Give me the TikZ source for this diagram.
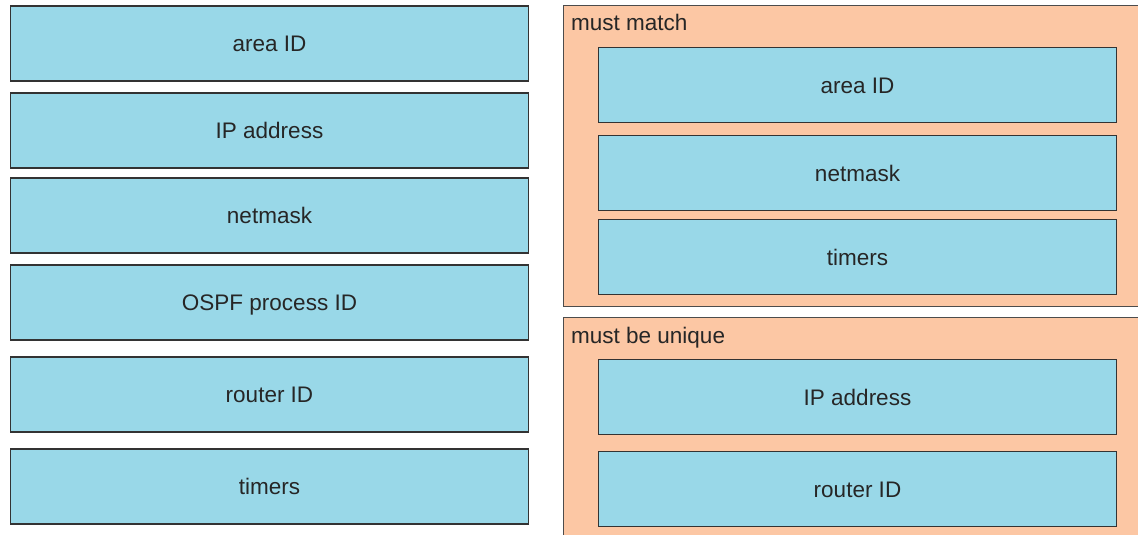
\documentclass[tikz,border=0pt]{standalone}
\usepackage{fontspec}
\setmainfont{Liberation Sans}

\definecolor{boxblue}{HTML}{99D8E8}
\definecolor{panelpeach}{HTML}{FCC7A4}

\tikzset{
  item/.style={draw=black!80, fill=boxblue, line width=1.2pt,
    minimum width=518pt, minimum height=75pt, inner sep=0pt,
    text height=16pt, text depth=0pt,
    font=\fontsize{22.5}{26}\selectfont, text=black!85},
  panel/.style={draw=black!70, fill=panelpeach, line width=1pt},
  paneltitle/.style={anchor=west, inner sep=0pt,
    font=\fontsize{22.5}{26}\selectfont, text=black!85}
}

\begin{document}
\begin{tikzpicture}[x=1pt, y=-1pt]

\useasboundingbox (0,0) rectangle (1138,535);
\fill[white] (0,0) rectangle (1138,535);

% parameters to sort
\node[item] (area)    at (269.5,43.5)  {area ID};
\node[item] (ipaddr)  at (269.5,130.5) {IP address};
\node[item] (mask)    at (269.5,215.5) {netmask};
\node[item] (process) at (269.5,302.5) {OSPF process ID};
\node[item] (rid)     at (269.5,394.5) {router ID};
\node[item] (timers)  at (269.5,486.5) {timers};

% must match
\draw[panel] (563.5,5.5) rectangle (1145,306);
\node[paneltitle] (matchlbl) at (571,22) {must match};
\node[item] (marea)   at (857.5,85)  {area ID};
\node[item] (mmask)   at (857.5,173) {netmask};
\node[item] (mtimers) at (857.5,257) {timers};

% must be unique
\draw[panel] (563.5,317.5) rectangle (1145,545);
\node[paneltitle] (uniqlbl) at (571,338) {must be unique};
\node[item] (uip)  at (857.5,397) {IP address};
\node[item] (urid) at (857.5,489) {router ID};

\end{tikzpicture}
\end{document}
